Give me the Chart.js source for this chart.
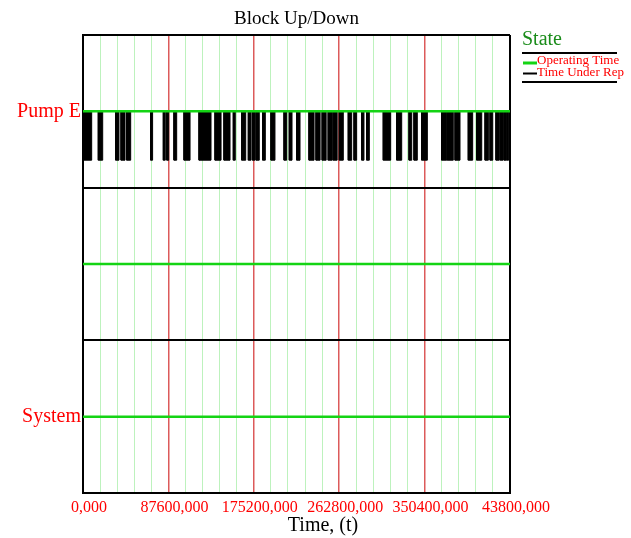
<!DOCTYPE html>
<html>
<head>
<meta charset="utf-8">
<script src="https://cdn.jsdelivr.net/npm/chart.js@4.4.1/dist/chart.umd.min.js"></script>
<style>
  body { margin: 0; background: #fff; }
  #wrap { position: relative; width: 631px; height: 538px; }
</style>
</head>
<body>
<div id="wrap"><canvas id="blockChart"></canvas></div>
<script>
// ------------------------------
// data
// ------------------------------
const xMax = 438000;
const majorTicks = [0, 87600, 175200, 262800, 350400, 438000];
const majorLabels = ['0,000', '87600,000', '175200,000', '262800,000', '350400,000', '43800,000'];
const blockNames = ['System', '', 'Pump E'];   // bottom to top
const upLevels = [0.5, 1.5, 2.5];
const downLevel = 2.18;                         // Pump E "Time Under Rep" level

// Pump E repair periods (start / end times)
const downStart = [0, 15700, 33500, 39000, 44800, 69400, 82400, 85900, 93300, 103600,
  119000, 135400, 144600, 154200, 162800, 169600, 173700, 177500, 184300, 192800,
  206200, 211600, 219200, 231800, 239000, 245300, 251500, 256600, 262900, 272100,
  278000, 285900, 291000, 308000, 321800, 334400, 339500, 347400, 367900, 373700,
  381600, 395200, 403800, 412400, 417500, 423600, 428000, 431800, 435200];
const downEnd = [8900, 20200, 36900, 43100, 48900, 71400, 84400, 87900, 96100, 109800,
  131300, 141600, 150800, 156200, 166900, 172300, 176400, 180800, 187000, 196900,
  208900, 214400, 222600, 237000, 243200, 249400, 255600, 260700, 267000, 275600,
  280700, 288200, 293700, 315600, 326900, 337200, 342900, 353200, 373100, 379800,
  386700, 399700, 409000, 415800, 420300, 427000, 430800, 434600, 436600];

// build step points for the repair blocks
const downPts = [{ x: 0, y: upLevels[2] }];
downStart.forEach((s, i) => {
    downPts.push({ x: s, y: upLevels[2] }, { x: s, y: downLevel },
                 { x: downEnd[i], y: downLevel }, { x: downEnd[i], y: upLevels[2] });
});
downPts.push({ x: xMax, y: upLevels[2] });

const upSets = upLevels.map(v => ({
    data: [{ x: 0, y: v }, { x: xMax, y: v }],
    borderColor: '#14d414',
    borderWidth: 2.5,
    pointRadius: 0
}));

// ------------------------------
// titles + legend drawn on the canvas
// ------------------------------
const decor = {
    id: 'decor',
    afterDraw(chart) {
        const c = chart.ctx, a = chart.chartArea;
        c.save();
        c.fillStyle = '#000';
        c.font = '19px "Liberation Serif"';
        c.textAlign = 'center';
        c.textBaseline = 'middle';
        c.fillText('Block Up/Down', (a.left + a.right) / 2, 19);
        c.font = '20px "Liberation Serif"';
        c.fillText('Time, (t)', 323, 526);

        c.textAlign = 'left';
        c.fillStyle = '#1a8c1a';
        c.font = '20px "Liberation Serif"';
        c.fillText('State', 522, 40);

        c.strokeStyle = '#000';
        c.lineWidth = 2;
        c.beginPath(); c.moveTo(522, 53); c.lineTo(617, 53); c.stroke();
        c.beginPath(); c.moveTo(522, 82); c.lineTo(617, 82); c.stroke();
        c.beginPath(); c.moveTo(523, 73.5); c.lineTo(537, 73.5); c.stroke();
        c.strokeStyle = '#14d414';
        c.lineWidth = 3;
        c.beginPath(); c.moveTo(523, 63); c.lineTo(537, 63); c.stroke();

        c.fillStyle = '#ff0000';
        c.font = '13px "Liberation Serif"';
        c.fillText('Operating Time', 537, 61);
        c.fillText('Time Under Rep', 537, 73);
        c.restore();
    }
};

const ctx = document.getElementById('blockChart').getContext('2d');
new Chart(ctx, {
    type: 'line',
    data: {
        datasets: [
            ...upSets,
            {
                data: downPts,
                borderColor: '#000',
                backgroundColor: '#000',
                borderWidth: 1,
                pointRadius: 0,
                fill: { value: upLevels[2] }
            }
        ]
    },
    options: {
        responsive: true,
        maintainAspectRatio: false,
        animation: false,
        layout: { padding: { top: 35, right: 121, left: 0, bottom: 0 } },
        plugins: { legend: { display: false }, tooltip: { enabled: false } },
        elements: { line: { tension: 0 } },
        scales: {
            x: {
                type: 'linear',
                min: 0,
                max: xMax,
                afterFit: s => { s.height = 45; },
                afterBuildTicks: s => {
                    s.ticks = [];
                    for (let v = 0; v <= xMax; v += 17520) s.ticks.push({ value: v });
                },
                ticks: {
                    autoSkip: false,
                    maxRotation: 0,
                    padding: 5,
                    labelOffset: 6,
                    color: '#ff0000',
                    font: { family: 'Liberation Serif', size: 16 },
                    callback: v => {
                        const i = majorTicks.indexOf(v);
                        return i >= 0 ? majorLabels[i] : '';
                    }
                },
                grid: {
                    drawTicks: false,
                    color: c => {
                        const v = c.tick ? c.tick.value : 0;
                        if (v === 0 || v === xMax) return '#000';
                        return majorTicks.includes(v) ? '#dc5a5a' : '#bdf2bd';
                    },
                    lineWidth: c => {
                        const v = c.tick ? c.tick.value : 0;
                        if (v === 0 || v === xMax) return 2;
                        return majorTicks.includes(v) ? 1.5 : 1;
                    }
                },
                border: { color: '#000', width: 2 }
            },
            y: {
                min: 0,
                max: 3,
                afterFit: s => { s.width = 83; },
                afterBuildTicks: s => {
                    s.ticks = [0, 0.5, 1, 1.5, 2, 2.5, 3].map(v => ({ value: v }));
                },
                ticks: {
                    padding: 2,
                    color: '#ff0000',
                    font: { family: 'Liberation Serif', size: 20 },
                    callback: v => {
                        const i = upLevels.indexOf(v);
                        return i >= 0 ? blockNames[i] : '';
                    }
                },
                grid: {
                    drawTicks: false,
                    color: c => (c.tick && Number.isInteger(c.tick.value)) ? '#000' : 'rgba(0,0,0,0)',
                    lineWidth: 2
                },
                border: { color: '#000', width: 2 }
            }
        }
    },
    plugins: [decor]
});
</script>
</body>
</html>
